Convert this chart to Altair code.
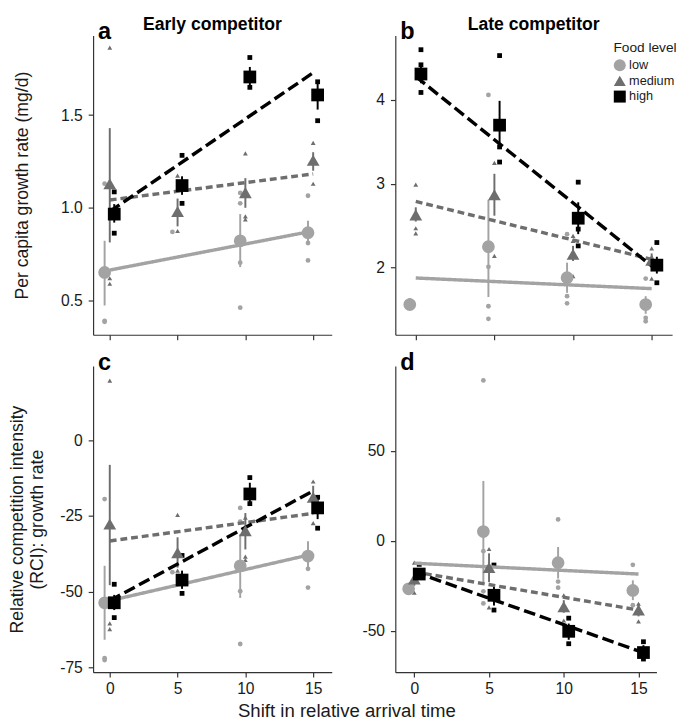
import altair as alt
import pandas as pd

FOOD = ["low", "medium", "high"]
COLORS = ["#a3a3a3", "#6e6e6e", "#000000"]
SHAPES = ["circle", "triangle-up", "square"]
DASHES = [[1, 0], [7, 4], [12, 5]]
DODGE = {"low": -0.38, "medium": 0.0, "high": 0.33}
SHIFT = [0, 5, 10, 15]
FIT_X = [0, 15]
FONT = "Liberation Sans"

# ---------------- panel a: early competitor, growth rate ----------------
A_MEAN = {"low": [0.651, None, 0.822, 0.866],
          "medium": [1.13, 0.98, 1.082, 1.257],
          "high": [0.966, 1.12, 1.706, 1.609]}
A_LO = {"low": [0.473, None, 0.68, 0.80],
        "medium": [0.813, 0.90, 1.0, 1.20],
        "high": [0.92, 1.07, 1.64, 1.53]}
A_HI = {"low": [0.822, None, 0.966, 0.93],
        "medium": [1.43, 1.05, 1.16, 1.30],
        "high": [1.02, 1.17, 1.76, 1.67]}
A_RAW = {"low": [(0, 0.39), (0, 0.385), (0, 1.13), (5, 0.87), (10, 1.08), (10, 1.024),
                 (10, 0.704), (10, 0.461), (15, 1.065), (15, 0.81), (15, 0.716)],
         "medium": [(0, 1.864), (0, 0.62), (0, 0.59), (5, 1.174), (5, 0.875), (10, 1.294),
                    (10, 0.954), (10, 0.937), (15, 1.35), (15, 1.13)],
         "high": [(0, 1.086), (0, 0.863), (5, 1.283), (5, 1.024), (10, 1.811), (10, 1.65),
                  (15, 1.68), (15, 1.47)]}
A_FIT = {"low": [0.664, 0.875], "medium": [1.042, 1.183], "high": [0.98, 1.729]}

# ---------------- panel b: late competitor, growth rate ----------------
B_MEAN = {"low": [1.56, 2.25, 1.88, 1.56],
          "medium": [2.63, 2.87, 2.16, 2.09],
          "high": [4.31, 3.70, 2.59, 2.03]}
B_LO = {"low": [1.52, 1.65, 1.70, 1.45],
        "medium": [2.55, 2.62, 2.08, 2.0],
        "high": [4.2, 3.42, 2.40, 1.93]}
B_HI = {"low": [1.60, 2.81, 2.06, 1.66],
        "medium": [2.72, 3.12, 2.26, 2.17],
        "high": [4.4, 3.99, 2.78, 2.13]}
B_RAW = {"low": [(0, 1.61), (0, 1.52), (5, 4.06), (5, 2.01), (5, 1.54), (5, 1.39), (10, 2.40),
                 (10, 1.66), (10, 1.575), (15, 1.87), (15, 1.40), (15, 1.36)],
         "medium": [(0, 2.99), (0, 2.47), (0, 2.41), (5, 3.25), (5, 2.14), (10, 2.38), (10, 2.32),
                    (10, 1.90), (15, 2.23), (15, 1.87)],
         "high": [(0, 4.60), (0, 4.42), (0, 4.09), (5, 4.53), (5, 3.44), (5, 3.26), (10, 3.02),
                  (10, 2.46), (10, 2.26), (15, 2.30), (15, 1.82)]}
B_FIT = {"low": [1.877, 1.75], "medium": [2.79, 2.10], "high": [4.28, 2.02]}

# ---------------- panel c: early competitor, RCI ----------------
C_MEAN = {"low": [-53.6, None, -41.4, -38.2],
          "medium": [-27.6, -37.1, -29.8, -18.8],
          "high": [-53.6, -46.1, -17.7, -22.3]}
C_LO = {"low": [-65.8, None, -52.0, -43.0],
        "medium": [-47.8, -42.0, -36.0, -22.0],
        "high": [-56.0, -49.0, -21.0, -26.0]}
C_HI = {"low": [-41.4, None, -31.0, -33.3],
        "medium": [-8.1, -32.0, -24.0, -15.0],
        "high": [-51.0, -43.0, -14.0, -19.0]}
C_RAW = {"low": [(0, -19.4), (0, -71.9), (0, -72.5), (5, -43.5), (10, -22.3), (10, -26.8),
                 (10, -49.8), (10, -67.2), (15, -42.4), (15, -48.6)],
         "medium": [(0, 19.7), (0, -60.4), (0, -62.3), (5, -24.6), (5, -43.0), (10, -25.5),
                    (10, -38.4), (10, -39.5), (15, -13.6), (15, -27.3)],
         "high": [(0, -47.5), (0, -58.5), (5, -38.0), (5, -50.5), (10, -12.3), (10, -20.9),
                  (15, -18.8), (15, -29.0)]}
C_FIT = {"low": [-52.9, -37.5], "medium": [-33.2, -24.1], "high": [-52.9, -16.7]}

# ---------------- panel d: late competitor, RCI ----------------
D_MEAN = {"low": [-26.7, 5.1, -12.2, -27.6],
          "medium": [-21.2, -14.9, -36.7, -38.5],
          "high": [-18.5, -30.3, -50.3, -62.1]}
D_LO = {"low": [-29.0, -23.0, -21.0, -33.0],
        "medium": [-25.0, -23.0, -40.0, -42.0],
        "high": [-21.0, -36.0, -55.0, -66.0]}
D_HI = {"low": [-24.0, 33.2, -3.5, -22.0],
        "medium": [-17.0, -7.0, -33.0, -35.0],
        "high": [-16.0, -25.0, -46.0, -58.0]}
D_RAW = {"low": [(0, -25.0), (0, -28.5), (5, 89.0), (5, -5.8), (5, -28.1), (5, -34.8),
                 (10, 11.8), (10, -22.7), (10, -26.1), (15, -13.4), (15, -35.8)],
         "medium": [(0, -12.2), (0, -28.9), (5, -4.6), (5, -37.0), (10, -30.3), (10, -44.3),
                    (15, -44.8), (15, -35.0)],
         "high": [(0, -13.1), (0, -20.0), (5, -13.5), (5, -38.5), (10, -43.0), (10, -57.2),
                  (15, -56.1), (15, -65.7)]}
D_FIT = {"low": [-12.5, -18.5], "medium": [-17.3, -38.5], "high": [-17.3, -61.2]}


def panel(mean, lo, hi, raw, fit, xdom, ydom, yticks, letter, w, h,
          yfmt=None, title=None, ytitle=None, ytitle_x=-64, xlabels=False,
          xtitle=None, xtitle_x=0, legend=False):
    mrows = []
    for f in FOOD:
        for s, m, l, u in zip(SHIFT, mean[f], lo[f], hi[f]):
            if m is None:
                continue
            mrows.append(dict(food=f, xp=s + DODGE[f], value=m, lo=l, hi=u))
    mdf = pd.DataFrame(mrows)
    rdf = pd.DataFrame([dict(food=f, xp=s + DODGE[f], value=v) for f in FOOD for s, v in raw[f]])
    fdf = pd.DataFrame([dict(food=f, xp=x, value=v) for f in FOOD for x, v in zip(FIT_X, fit[f])])

    xaxis_kw = dict(values=SHIFT, labels=xlabels, tickSize=5, labelPadding=4,
                    labelFontSize=16, title=xtitle)
    if xtitle:
        xaxis_kw.update(titleX=xtitle_x, titleFontSize=19, titlePadding=5)
    yaxis_kw = dict(values=yticks, tickSize=5, labelPadding=6, labelFontSize=16, title=ytitle)
    if yfmt == "hyphen":
        yaxis_kw["labelExpr"] = "'' + datum.value"
    elif yfmt:
        yaxis_kw["format"] = yfmt
    if ytitle:
        yaxis_kw.update(titleX=ytitle_x, titleFontSize=18, titleLineHeight=20, titleBaseline="bottom")

    x = alt.X("xp:Q", scale=alt.Scale(domain=xdom, nice=False, zero=False), axis=alt.Axis(**xaxis_kw))
    y = alt.Y("value:Q", scale=alt.Scale(domain=ydom, nice=False, zero=False), axis=alt.Axis(**yaxis_kw))

    if legend:
        leg = alt.Legend(title="Food level", orient="none", legendX=223, legendY=6,
                         symbolSize=150, titleFontSize=14, labelFontSize=13, titleFontWeight="normal",
                         rowPadding=2, symbolStrokeWidth=0, titlePadding=4, labelOffset=3)
        color = alt.Color("food:N", scale=alt.Scale(domain=FOOD, range=COLORS), legend=leg)
        shape = alt.Shape("food:N", scale=alt.Scale(domain=FOOD, range=SHAPES), legend=leg)
    else:
        color = alt.Color("food:N", scale=alt.Scale(domain=FOOD, range=COLORS), legend=None)
        shape = alt.Shape("food:N", scale=alt.Scale(domain=FOOD, range=SHAPES), legend=None)

    raw_layer = alt.Chart(rdf).mark_point(filled=True, opacity=1, size=24).encode(
        x=x, y=y, color=color, shape=shape)
    err_layer = alt.Chart(mdf).mark_rule(strokeWidth=2).encode(
        x=x, y=alt.Y("lo:Q"), y2="hi:Q", color=color)
    fit_layer = alt.Chart(fdf).mark_line(strokeWidth=3.5).encode(
        x=x, y=y, color=color,
        strokeDash=alt.StrokeDash("food:N", scale=alt.Scale(domain=FOOD, range=DASHES), legend=None))
    mean_layer = alt.Chart(mdf).mark_point(filled=True, opacity=1, size=170).encode(
        x=x, y=y, color=color, shape=shape)
    letter_layer = alt.Chart(pd.DataFrame({"t": [letter]})).mark_text(
        font=FONT, fontSize=24, fontWeight="bold", align="left", baseline="alphabetic",
        color="black").encode(text="t:N", x=alt.value(5), y=alt.value(4))

    props = dict(width=w, height=h)
    if title:
        props["title"] = alt.TitleParams(title, font=FONT, fontSize=18, fontWeight="bold",
                                         anchor="middle", offset=-13, color="black")
    return alt.layer(raw_layer, err_layer, fit_layer, mean_layer, letter_layer).properties(**props)


pa = panel(A_MEAN, A_LO, A_HI, A_RAW, A_FIT, [-1.23, 16.37], [0.315, 1.93], [0.5, 1.0, 1.5], "a",
           244, 306, yfmt=".1f", title="Early competitor",
           ytitle="Per capita growth rate (mg/d)", ytitle_x=-63)
pb = panel(B_MEAN, B_LO, B_HI, B_RAW, B_FIT, [-1.3, 16.3], [1.2, 4.77], [2, 3, 4], "b",
           283, 306, yfmt="d", title="Late competitor", legend=True)
pc = panel(C_MEAN, C_LO, C_HI, C_RAW, C_FIT, [-1.23, 16.37], [-76.5, 24.5], [-75, -50, -25, 0], "c",
           244, 313, yfmt="hyphen",
           ytitle=["Relative competition intensity", "(RCI): growth rate"], ytitle_x=-68,
           xlabels=True, xtitle="Shift in relative arrival time", xtitle_x=259)
pd_ = panel(D_MEAN, D_LO, D_HI, D_RAW, D_FIT, [-1.27, 16.2], [-73, 97], [-50, 0, 50], "d",
            267, 313, yfmt="hyphen", xlabels=True)

res = dict(x="independent", y="independent", color="independent", shape="independent",
           strokeDash="independent")

chart = alt.concat(pa, pb, pc, pd_, columns=2, spacing={"row": 32, "column": 65},
                   bounds="flush", align="each").resolve_scale(**res).resolve_legend(
    color="independent", shape="independent").properties(
    padding={"left": 1, "top": 0, "right": 0, "bottom": 0}
).configure_view(stroke=None).configure_axis(
    grid=False, domainColor="#333333", tickColor="#333333", domainWidth=1.2, tickWidth=1.2,
    labelColor="#1a1a1a", titleColor="#1a1a1a", labelFont=FONT, titleFont=FONT,
    titleFontWeight="normal"
).configure_legend(labelFont=FONT, titleFont=FONT, labelColor="#1a1a1a", titleColor="#1a1a1a")

chart.save("out.html", embed_options={"renderer": "svg", "actions": False})
